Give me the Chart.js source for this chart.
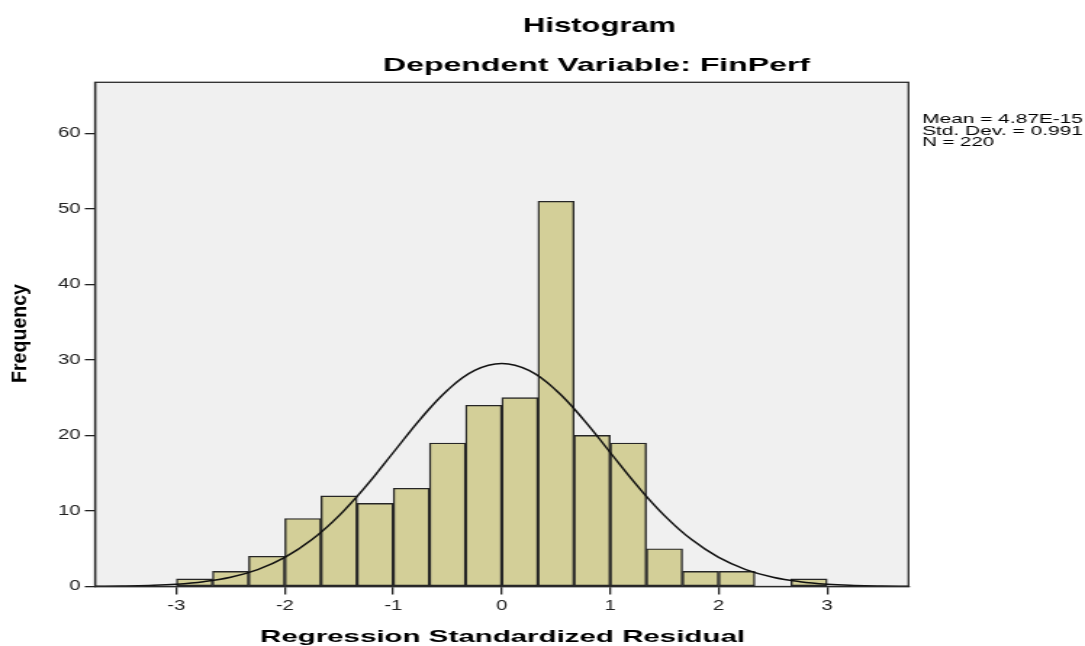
<!DOCTYPE html>
<html>
<head>
<meta charset="utf-8">
<script src="https://cdn.jsdelivr.net/npm/chart.js@4"></script>
<style>
  html, body { margin: 0; padding: 0; background: #fff; }
</style>
</head>
<body>
<!-- the source picture is stretched sideways, so draw narrow and stretch the canvas -->
<canvas id="chart" width="748" height="646" style="display:block;width:1085px;height:646px"></canvas>
<script>
// bins of width 1/3 from -3 to 3 (centres)
const binCenters = [-2.833, -2.5, -2.167, -1.833, -1.5, -1.167, -0.833, -0.5, -0.167,
                    0.167, 0.5, 0.833, 1.167, 1.5, 1.833, 2.167, 2.5, 2.833];
const frequencies = [1, 2, 4, 9, 12, 11, 13, 19, 24, 25, 51, 20, 19, 5, 2, 2, 0, 1];

// normal curve
const curveX = [-3.75, -3.5, -3.25, -3, -2.75, -2.5, -2.25, -2, -1.75, -1.5, -1.25, -1, -0.75, -0.5, -0.25, 0,
                0.25, 0.5, 0.75, 1, 1.25, 1.5, 1.75, 2, 2.25, 2.5, 2.75, 3, 3.25, 3.5, 3.75];
const curveY = [0.02, 0.06, 0.14, 0.3, 0.63, 1.22, 2.24, 3.85, 6.21, 9.39, 13.32, 17.74, 22.17, 25.99, 28.6, 29.52,
                28.6, 25.99, 22.17, 17.74, 13.32, 9.39, 6.21, 3.85, 2.24, 1.22, 0.63, 0.3, 0.14, 0.06, 0.02];

const xTicks = [-3, -2, -1, 0, 1, 2, 3];
const yTicks = [0, 10, 20, 30, 40, 50, 60];

const titleLines = ['Histogram', 'Dependent Variable: FinPerf'];
const statLines = ['Mean = 4.87E-15', 'Std. Dev. = 0.991', 'N = 220'];
const xTitle = 'Regression Standardized Residual';
const yTitle = 'Frequency';

const S = 1085 / 748;   // horizontal stretch of the canvas
const FONT = '"Liberation Sans", Arial, sans-serif';

// draw text so that it spans widthRef pixels of the final picture
function fitText(ctx, text, font, leftRef, widthRef, baseline) {
  ctx.save();
  ctx.font = font;
  const w = ctx.measureText(text).width;
  ctx.translate(leftRef / S, baseline);
  ctx.scale((widthRef / S) / w, 1);
  ctx.textAlign = 'left';
  ctx.textBaseline = 'alphabetic';
  ctx.fillText(text, 0, 0);
  ctx.restore();
}

const decor = {
  id: 'decor',
  beforeDraw(chart) {
    const { ctx, chartArea: a } = chart;
    ctx.save();
    ctx.fillStyle = '#ffffff';
    ctx.fillRect(0, 0, chart.width, chart.height);
    ctx.fillStyle = '#f0f0f0';
    ctx.fillRect(a.left, a.top, a.right - a.left, a.bottom - a.top);
    ctx.restore();
  },
  afterDraw(chart) {
    const { ctx, chartArea: a } = chart;
    ctx.save();
    ctx.strokeStyle = '#2a2a2a';
    ctx.lineWidth = 1.3;
    ctx.strokeRect(a.left, a.top, a.right - a.left, a.bottom - a.top);
    ctx.fillStyle = '#000';

    fitText(ctx, titleLines[0], 'bold 21px ' + FONT, 523, 153, 32);
    fitText(ctx, titleLines[1], 'bold 19px ' + FONT, 383, 427, 71);

    fitText(ctx, statLines[0], '13.5px ' + FONT, 922, 161, 123);
    fitText(ctx, statLines[1], '13.5px ' + FONT, 922, 161, 134.5);
    fitText(ctx, statLines[2], '13.5px ' + FONT, 922, 72, 146);

    fitText(ctx, xTitle, 'bold 17px ' + FONT, 260, 485, 642);

    // rotated y title
    ctx.font = 'bold 20px ' + FONT;
    const w = ctx.measureText(yTitle).width;
    ctx.translate(26 / S, 383);
    ctx.scale(15 / (0.716 * 20) / S, 99 / w);
    ctx.rotate(-Math.PI / 2);
    ctx.textAlign = 'left';
    ctx.textBaseline = 'alphabetic';
    ctx.fillText(yTitle, 0, 0);
    ctx.restore();
  }
};

const tickFont = { family: FONT, size: 14 };

new Chart(document.getElementById('chart'), {
  type: 'bar',
  data: {
    datasets: [
      {
        type: 'line',
        data: curveX.map((x, i) => ({ x, y: curveY[i] })),
        borderColor: '#111',
        borderWidth: 1.5,
        pointRadius: 0,
        tension: 0.4,
        fill: false,
        order: 0
      },
      {
        type: 'bar',
        data: binCenters.map((x, i) => ({ x, y: frequencies[i] })),
        backgroundColor: '#d3cf98',
        borderColor: '#262626',
        borderWidth: 1.4,
        borderSkipped: false,
        barPercentage: 1,
        categoryPercentage: 1,
        order: 1
      }
    ]
  },
  options: {
    responsive: false,
    devicePixelRatio: 1,
    animation: false,
    layout: { padding: { left: 0, top: 82.3, right: 748 - 908.5 / S, bottom: 0 } },
    plugins: { legend: { display: false }, tooltip: { enabled: false }, title: { display: false } },
    scales: {
      x: {
        type: 'linear',
        offset: false,
        min: -3.75,
        max: 3.75,
        afterBuildTicks: s => { s.ticks = xTicks.map(v => ({ value: v })); },
        afterFit: s => { s.height = 646 - 586.5; },
        ticks: { font: tickFont, color: '#222', padding: 3, maxRotation: 0, autoSkip: false },
        grid: { offset: false, drawOnChartArea: false, drawTicks: true, tickLength: 8, color: '#222', lineWidth: 1.3 },
        border: { display: true, color: '#222', width: 1.3 }
      },
      y: {
        min: 0,
        max: 66.75,
        afterBuildTicks: s => { s.ticks = yTicks.map(v => ({ value: v })); },
        afterFit: s => { s.width = 95 / S; },
        ticks: { font: tickFont, color: '#222', padding: 3 },
        grid: { drawOnChartArea: false, drawTicks: true, tickLength: 7, color: '#222', lineWidth: 1.3 },
        border: { display: true, color: '#222', width: 1.3 }
      }
    }
  },
  plugins: [decor]
});
</script>
</body>
</html>
